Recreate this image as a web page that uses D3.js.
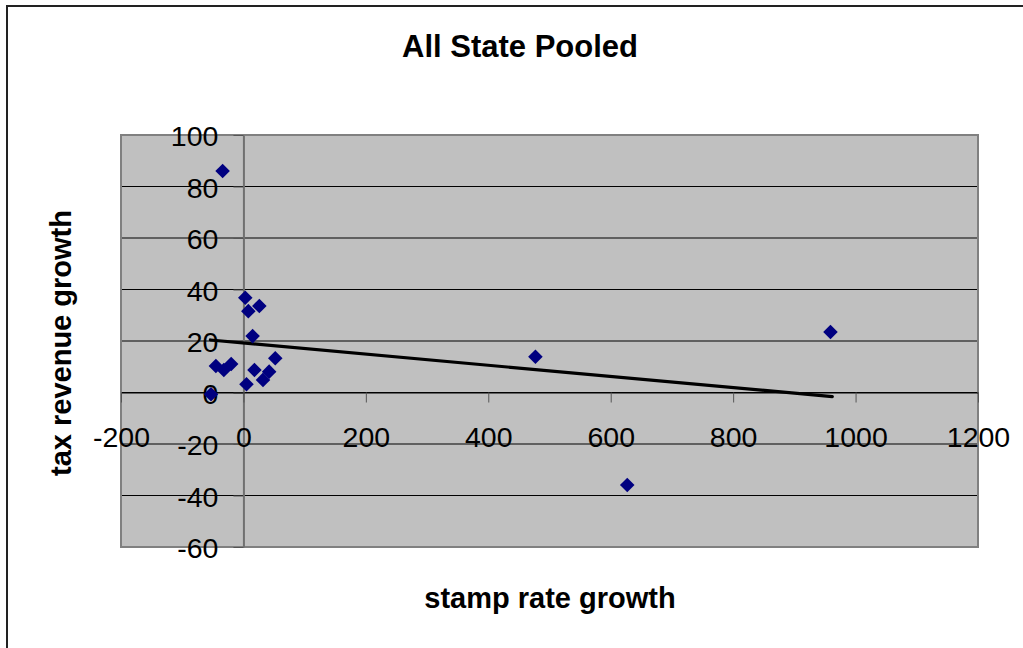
<!DOCTYPE html>
<html>
<head>
<meta charset="utf-8">
<script src="https://cdn.jsdelivr.net/npm/d3@7"></script>
<style>
  body { margin: 0; background: #fff; }
  svg { display: block; font-family: "Liberation Sans", Arial, sans-serif; }
</style>
</head>
<body>
<svg id="chart" width="1023" height="648"></svg>
<script>
// stamp rate growth vs tax revenue growth
const stampGrowth = [-34, -53, -45, -32, -20, 3, 8, 26, 15, 5, 18, 32, 42, 52, 477, 627, 959];
const revenueGrowth = [86, -0.7, 10.3, 8.7, 11.1, 36.8, 31.6, 33.6, 21.9, 3.2, 8.7, 4.9, 8.1, 13.3, 13.9, -35.9, 23.5];
const trendX = [-54, 962];
const trendY = [20.4, -1.6];
const xTicks = [-200, 0, 200, 400, 600, 800, 1000, 1200];
const yTicks = [-60, -40, -20, 0, 20, 40, 60, 80, 100];

const svg = d3.select('#chart');
const plot = { left: 121, right: 978, top: 135, bottom: 547 };
const fmt = d => String(d);

const x = d3.scaleLinear().domain([-200, 1200]).range([plot.left, plot.right]);
const y = d3.scaleLinear().domain([-60, 100]).range([plot.bottom, plot.top]);

// outer chart frame
svg.append('rect')
    .attr('x', 7).attr('y', 6).attr('width', 1040).attr('height', 660)
    .attr('fill', 'none').attr('stroke', '#222').attr('stroke-width', 2);

// plot area background
svg.append('rect')
    .attr('x', plot.left).attr('y', plot.top)
    .attr('width', plot.right - plot.left).attr('height', plot.bottom - plot.top)
    .attr('fill', '#c0c0c0');

// horizontal gridlines
svg.append('g').selectAll('line')
    .data(yTicks.filter(d => d > -60 && d < 100)).enter().append('line')
    .attr('x1', plot.left).attr('x2', plot.right)
    .attr('y1', d => y(d)).attr('y2', d => y(d))
    .attr('stroke', '#000').attr('stroke-width', 1.2);

// plot area border
svg.append('rect')
    .attr('x', plot.left).attr('y', plot.top)
    .attr('width', plot.right - plot.left).attr('height', plot.bottom - plot.top)
    .attr('fill', 'none').attr('stroke', '#808080').attr('stroke-width', 2);

// y axis sits on x = 0
const yAxis = svg.append('g')
    .attr('transform', `translate(${x(0)},0)`)
    .call(d3.axisLeft(y).tickValues(yTicks).tickFormat(fmt)
        .tickSizeInner(10).tickSizeOuter(0).tickPadding(15))
    .attr('font-family', '"Liberation Sans", Arial, sans-serif')
    .attr('font-size', 28.5);
yAxis.select('.domain').attr('stroke', '#707070').attr('stroke-width', 2);
yAxis.selectAll('.tick line').attr('stroke', '#555');
yAxis.selectAll('.tick text').attr('dy', '0.37em').attr('fill', '#000');

// x axis sits on y = 0
const xAxis = svg.append('g')
    .attr('transform', `translate(0,${y(0)})`)
    .call(d3.axisBottom(x).tickValues(xTicks).tickFormat(fmt)
        .tickSizeInner(10).tickSizeOuter(0))
    .attr('font-family', '"Liberation Sans", Arial, sans-serif')
    .attr('font-size', 28.5);
xAxis.select('.domain').attr('stroke', '#000').attr('stroke-width', 1.2);
xAxis.selectAll('.tick line').attr('stroke', '#555');
xAxis.selectAll('.tick text').attr('y', 54).attr('dy', 0).attr('fill', '#000');

// trendline
svg.append('line')
    .attr('x1', x(trendX[0])).attr('y1', y(trendY[0]))
    .attr('x2', x(trendX[1])).attr('y2', y(trendY[1]))
    .attr('stroke', '#000').attr('stroke-width', 3.2).attr('stroke-linecap', 'round');

// points
const diamond = d3.symbol().type(d3.symbolDiamond2).size(135);
svg.append('g').selectAll('path')
    .data(stampGrowth.map((d, i) => [d, revenueGrowth[i]])).enter().append('path')
    .attr('d', diamond)
    .attr('transform', d => `translate(${x(d[0])},${y(d[1])})`)
    .attr('fill', '#000080');

// titles
svg.append('text')
    .attr('x', 520).attr('y', 57).attr('text-anchor', 'middle')
    .attr('font-size', 31).attr('font-weight', 'bold')
    .text('All State Pooled');

svg.append('text')
    .attr('x', 550).attr('y', 608).attr('text-anchor', 'middle')
    .attr('font-size', 29).attr('font-weight', 'bold')
    .text('stamp rate growth');

svg.append('text')
    .attr('transform', 'translate(71,343) rotate(-90)')
    .attr('text-anchor', 'middle')
    .attr('font-size', 29).attr('font-weight', 'bold')
    .text('tax revenue growth');
</script>
</body>
</html>
